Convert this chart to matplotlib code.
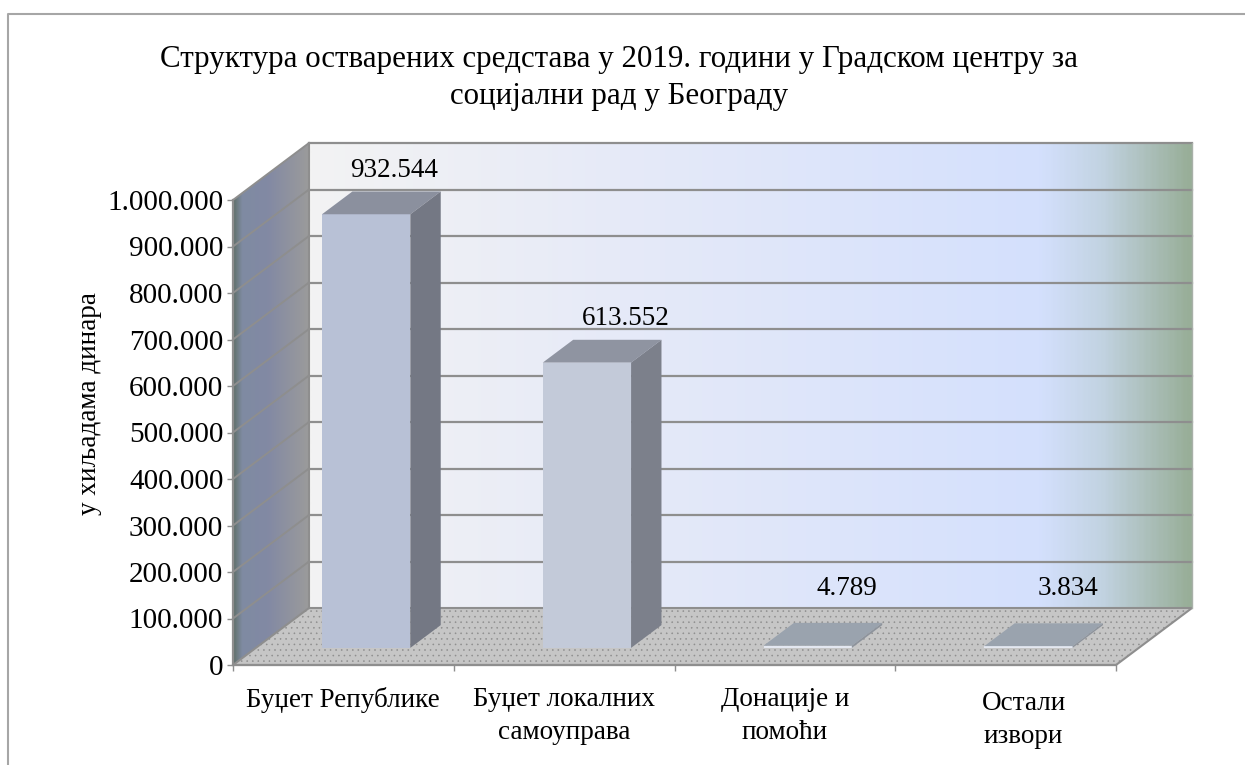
import matplotlib
matplotlib.use('Agg')
import matplotlib.pyplot as plt
from matplotlib.colors import LinearSegmentedColormap
from matplotlib.patches import Polygon
import numpy as np

plt.rcParams['font.family'] = ['Liberation Serif', 'DejaVu Serif']

title = 'Структура остварених средстава у 2019. години у Градском центру за\nсоцијални рад у Београду'
categories = ['Буџет Републике', 'Буџет локалних\nсамоуправа', 'Донације и\nпомоћи', 'Остали\nизвори']
values = [932544, 613552, 4789, 3834]
value_labels = ['932.544', '613.552', '4.789', '3.834']
yticks = [0, 100000, 200000, 300000, 400000, 500000, 600000, 700000, 800000, 900000, 1000000]
ylabel = 'у хиљадама динара'

front_colors = ['#b8c1d6', '#c3cad9', '#e3e7f0', '#e3e7f0']
top_colors = ['#8b909e', '#8f94a1', '#9aa3ae', '#9aa3ae']
side_colors = ['#747884', '#7c808b', '#8d939c', '#8d939c']

line_col = '#8e8e8e'
ymax = 1000000
# depth of the fake 3d box, in data units
depth_x = 76 / 883 * 4
depth_y = 57 / 465 * ymax
bar_width = 0.4
bar_front = 0.3
bar_back = 0.7
# hand placed labels in the original, offsets in pixels
label_dx = [13, 24, 24, 24]
label_dy = [0, 0, 14, 14]
cat_dx = [0, 0, 0, 18]
cat_dy = [0, 0, 0, -4]


def shift(x, y, d):
    return x + d * depth_x, y + d * depth_y


def gradient(ax, poly, extent, stops, zorder):
    cmap = LinearSegmentedColormap.from_list('g', stops)
    im = ax.imshow(np.linspace(0, 1, 400).reshape(1, -1), extent=extent, cmap=cmap,
                   aspect='auto', zorder=zorder)
    patch = Polygon(poly, closed=True, transform=ax.transData, facecolor='none', edgecolor='none')
    ax.add_patch(patch)
    im.set_clip_box(fig.bbox)
    im.set_clip_path(patch)


fig = plt.figure(figsize=(12.45, 7.65), dpi=100)
ax = fig.add_axes([233 / 1245, 100 / 765, 883 / 1245, 465 / 765])

# chart frame
fig.add_artist(plt.Line2D([8 / 1245, 8 / 1245, 1], [0, 751 / 765, 751 / 765], color='#a6a6a6', lw=1.5))

# back wall
wall = [shift(0, 0, 1), shift(4, 0, 1), shift(4, ymax, 1), shift(0, ymax, 1)]
gradient(ax, wall, (depth_x, 4 + depth_x, depth_y, ymax + depth_y),
         [(0, '#f3f3f3'), (0.35, '#e6eaf8'), (0.83, '#d4e0fd'), (0.9, '#c2d3e2'), (1, '#98ae98')], 1)

# side wall
side = [(0, 0), shift(0, 0, 1), shift(0, ymax, 1), (0, ymax)]
gradient(ax, side, (0, depth_x, 0, ymax + depth_y),
         [(0, '#5f6f68'), (0.12, '#7f8ba2'), (0.45, '#8289a4'), (1, '#9b9b9b')], 1)

# floor
plt.rcParams['hatch.color'] = '#a4adc0'
plt.rcParams['hatch.linewidth'] = 0.4
floor = [(0, 0), (4, 0), shift(4, 0, 1), shift(0, 0, 1)]
ax.add_patch(Polygon(floor, closed=True, facecolor='#c6c6c6', edgecolor=line_col, lw=1.5,
                     hatch='...', zorder=2, clip_on=False))

# gridlines on both walls
for t in yticks[1:]:
    x0, y0 = shift(0, t, 1)
    x1, y1 = shift(4, t, 1)
    ax.plot([x0, x1], [y0, y1], color=line_col, lw=1.6, zorder=3, clip_on=False)
    ax.plot([0, x0], [t, y0], color=line_col, lw=1.4, zorder=3, clip_on=False)
ax.plot([depth_x, depth_x], [depth_y, ymax + depth_y], color=line_col, lw=1.5, zorder=3, clip_on=False)
ax.plot([4 + depth_x, 4 + depth_x], [depth_y, ymax + depth_y], color='#a8b0a8', lw=1, zorder=3, clip_on=False)

# bars
for i, v in enumerate(values):
    left = i + 0.5 - bar_width / 2
    fl, fb = shift(left, 0, bar_front)
    fr = fl + bar_width
    ft = fb + v
    d = bar_back - bar_front
    bx = d * depth_x
    by = d * depth_y
    ax.add_patch(Polygon([(fl, fb), (fr, fb), (fr, ft), (fl, ft)], facecolor=front_colors[i],
                         edgecolor='none', zorder=5, clip_on=False))
    ax.add_patch(Polygon([(fl, ft), (fr, ft), (fr + bx, ft + by), (fl + bx, ft + by)], facecolor=top_colors[i],
                         edgecolor='none', zorder=5, clip_on=False))
    ax.add_patch(Polygon([(fr, fb), (fr + bx, fb + by), (fr + bx, ft + by), (fr, ft)], facecolor=side_colors[i],
                         edgecolor='none', zorder=5, clip_on=False))
    # value label sits above the back of the bar
    ax.annotate(value_labels[i], xy=(fr + bx / 2 - bar_width / 2, ft + by),
                xytext=(label_dx[i] * 0.72, (6 / 0.72 + label_dy[i]) * 0.72),
                textcoords='offset points', ha='center', va='bottom', fontsize=19.5, zorder=6,
                annotation_clip=False)

ax.set_xlim(0, 4)
ax.set_ylim(0, ymax)
ax.set_xticks(range(5))
ax.set_xticklabels([])
ax.set_yticks(yticks)
ax.set_yticklabels([f'{t:,}'.replace(',', '.') for t in yticks], fontsize=21)
ax.tick_params(axis='both', length=4.5, width=1, color=line_col, pad=2.5)
ax.patch.set_visible(False)
for s in ['top', 'right']:
    ax.spines[s].set_visible(False)
for s in ['left', 'bottom']:
    ax.spines[s].set_color(line_col)
    ax.spines[s].set_linewidth(1.6)
ax.set_ylabel(ylabel, fontsize=19.5)
ax.yaxis.set_label_coords(-0.148, 0.563)

# category labels
for i, c in enumerate(categories):
    ax.annotate(c, xy=(i + 0.5, 0), xytext=(cat_dx[i] * 0.72, (-22 + cat_dy[i]) * 0.72),
                textcoords='offset points', ha='center', va='top', fontsize=19.5, linespacing=1.4,
                annotation_clip=False)

fig.text(619 / 1245, 1 - 45 / 765, title, ha='center', va='top', fontsize=22.3, linespacing=1.36)

fig.savefig('out.png', dpi=100)
plt.close()
